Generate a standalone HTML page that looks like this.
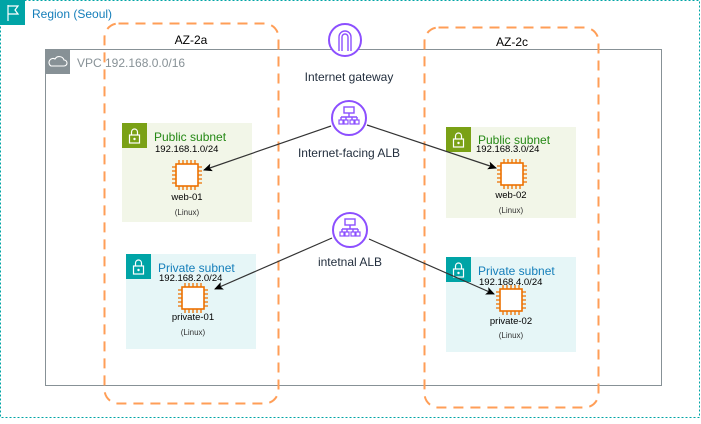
<!DOCTYPE html>
<html><head><style>
body{margin:0;width:701px;height:419px;background:#fff;overflow:hidden;font-family:"Liberation Sans",sans-serif}
</style></head><body>
<svg width="701" height="419" xmlns="http://www.w3.org/2000/svg" font-family="Liberation Sans, sans-serif">
<defs>
<marker id="a" markerWidth="10" markerHeight="10" refX="8" refY="4" orient="auto" markerUnits="userSpaceOnUse"><path d="M0,0 L9,4 L0,8 L2,4 z" fill="#000"/></marker>
<g id="chip"><rect x="-11" y="-11" width="22" height="22" fill="#fff" stroke="#ED7100" stroke-width="1.6"/>
<path d="M-8,-11v-4M-4,-11v-4M0,-11v-4M4,-11v-4M8,-11v-4M-8,11v4M-4,11v4M0,11v4M4,11v4M8,11v4M-11,-8h-4M-11,-4h-4M-11,0h-4M-11,4h-4M-11,8h-4M11,-8h4M11,-4h4M11,0h4M11,4h4M11,8h4" stroke="#ED7100" stroke-width="1.3"/></g>
<g id="lock"><rect x="-5" y="-1" width="10" height="8" fill="none" stroke="#fff" stroke-width="1.2"/><path d="M-3,-1v-3a3,3 0 0 1 6,0v3" fill="none" stroke="#fff" stroke-width="1.2"/><circle cx="0" cy="3" r="1.2" fill="#fff"/></g>
<g id="alb"><circle r="17" fill="#fff" stroke="#8C4FFF" stroke-width="2"/><rect x="-5" y="-11" width="10" height="6" fill="none" stroke="#8C4FFF" stroke-width="1.4"/><path d="M0,-5v4M-8,-1h16M-8,-1v3M-3,-1v3M3,-1v3M8,-1v3" stroke="#8C4FFF" stroke-width="1.4" fill="none"/><rect x="-10" y="2" width="4" height="4" fill="none" stroke="#8C4FFF" stroke-width="1.2"/><rect x="-5" y="2" width="4" height="4" fill="none" stroke="#8C4FFF" stroke-width="1.2"/><rect x="1" y="2" width="4" height="4" fill="none" stroke="#8C4FFF" stroke-width="1.2"/><rect x="6" y="2" width="4" height="4" fill="none" stroke="#8C4FFF" stroke-width="1.2"/></g>
</defs>
<rect x="0.5" y="0.5" width="699" height="417" fill="none" stroke="#00A4A6" stroke-dasharray="2,2"/>
<rect x="0" y="0" width="25" height="25" fill="#00A4A6"/>
<path d="M8,5v16M8,6h10l-3,4 3,4h-10" fill="none" stroke="#fff" stroke-width="1.2"/>
<text x="32" y="18" font-size="12" fill="#147EBA">Region (Seoul)</text>
<rect x="45.5" y="49.5" width="616" height="336" fill="none" stroke="#879196"/>
<rect x="45" y="49" width="25" height="25" fill="#879196"/>
<path d="M51,66h13a3,3 0 0 0 0,-6a5,5 0 0 0 -9,-1a3.5,3.5 0 0 0 -4,7z" fill="none" stroke="#fff" stroke-width="1.1"/>
<text x="77" y="67" font-size="12" fill="#879196">VPC 192.168.0.0/16</text>
<rect x="122" y="123" width="130" height="99" fill="#F2F6E8"/>
<rect x="122" y="123" width="25" height="25" fill="#7AA116"/><use href="#lock" x="134.5" y="136"/>
<text x="154" y="141" font-size="12" fill="#248814">Public subnet</text>
<text x="155" y="152" font-size="9.5" fill="#000">192.168.1.0/24</text>
<use href="#chip" x="187" y="175"/>
<text x="187" y="200" font-size="9.5" text-anchor="middle">web-01</text>
<text x="187" y="215" font-size="8" text-anchor="middle" fill="#333">(Linux)</text>
<rect x="126" y="254" width="130" height="95" fill="#E6F6F7"/>
<rect x="126" y="254" width="25" height="25" fill="#00A4A6"/><use href="#lock" x="138.5" y="267"/>
<text x="158" y="272" font-size="12" fill="#147EBA">Private subnet</text>
<text x="159" y="281" font-size="9.5" fill="#000">192.168.2.0/24</text>
<use href="#chip" x="193" y="298"/>
<text x="193" y="320" font-size="9.5" text-anchor="middle">private-01</text>
<text x="193" y="335" font-size="8" text-anchor="middle" fill="#333">(Linux)</text>
<rect x="446" y="127" width="130" height="91" fill="#F2F6E8"/>
<rect x="446" y="127" width="25" height="25" fill="#7AA116"/><use href="#lock" x="458.5" y="140"/>
<text x="478" y="144" font-size="12" fill="#248814">Public subnet</text>
<text x="476" y="152" font-size="9.5" fill="#000">192.168.3.0/24</text>
<use href="#chip" x="512" y="174"/>
<text x="511" y="198" font-size="9.5" text-anchor="middle">web-02</text>
<text x="511" y="213" font-size="8" text-anchor="middle" fill="#333">(Linux)</text>
<rect x="446" y="257" width="130" height="95" fill="#E6F6F7"/>
<rect x="446" y="257" width="25" height="25" fill="#00A4A6"/><use href="#lock" x="458.5" y="270"/>
<text x="478" y="275" font-size="12" fill="#147EBA">Private subnet</text>
<text x="479" y="285" font-size="9.5" fill="#000">192.168.4.0/24</text>
<use href="#chip" x="511" y="300"/>
<text x="511" y="324" font-size="9.5" text-anchor="middle">private-02</text>
<text x="511" y="338" font-size="8" text-anchor="middle" fill="#333">(Linux)</text>
<rect x="104.5" y="23.5" width="174" height="380" rx="14" fill="none" stroke="#FF9E57" stroke-width="2" stroke-dasharray="10,7"/>
<text x="191" y="44" font-size="12" text-anchor="middle">AZ-2a</text>
<rect x="424.5" y="27.5" width="174" height="380" rx="14" fill="none" stroke="#FF9E57" stroke-width="2" stroke-dasharray="10,7"/>
<text x="512" y="46" font-size="12" text-anchor="middle">AZ-2c</text>
<circle cx="345" cy="40" r="16" fill="#fff" stroke="#8C4FFF" stroke-width="2"/>
<path d="M339,51v-14a6,6 0 0 1 12,0v14M342,51v-14a3,3 0 0 1 6,0v14" fill="none" stroke="#8C4FFF" stroke-width="1.4"/>
<text x="349" y="81" font-size="12" text-anchor="middle" fill="#232F3E">Internet gateway</text>
<use href="#alb" x="349" y="118"/>
<text x="349" y="157" font-size="12" text-anchor="middle" fill="#232F3E">Internet-facing ALB</text>
<use href="#alb" x="350" y="230"/>
<text x="350" y="266" font-size="12" text-anchor="middle" fill="#232F3E">intetnal ALB</text>
<g stroke="#333" stroke-width="1.2" fill="none">
<line x1="331" y1="126" x2="204" y2="170" marker-end="url(#a)"/>
<line x1="367" y1="125" x2="496" y2="168" marker-end="url(#a)"/>
<line x1="332" y1="238" x2="215" y2="289" marker-end="url(#a)"/>
<line x1="369" y1="239" x2="494" y2="294" marker-end="url(#a)"/>
</g>
</svg>
</body></html>
